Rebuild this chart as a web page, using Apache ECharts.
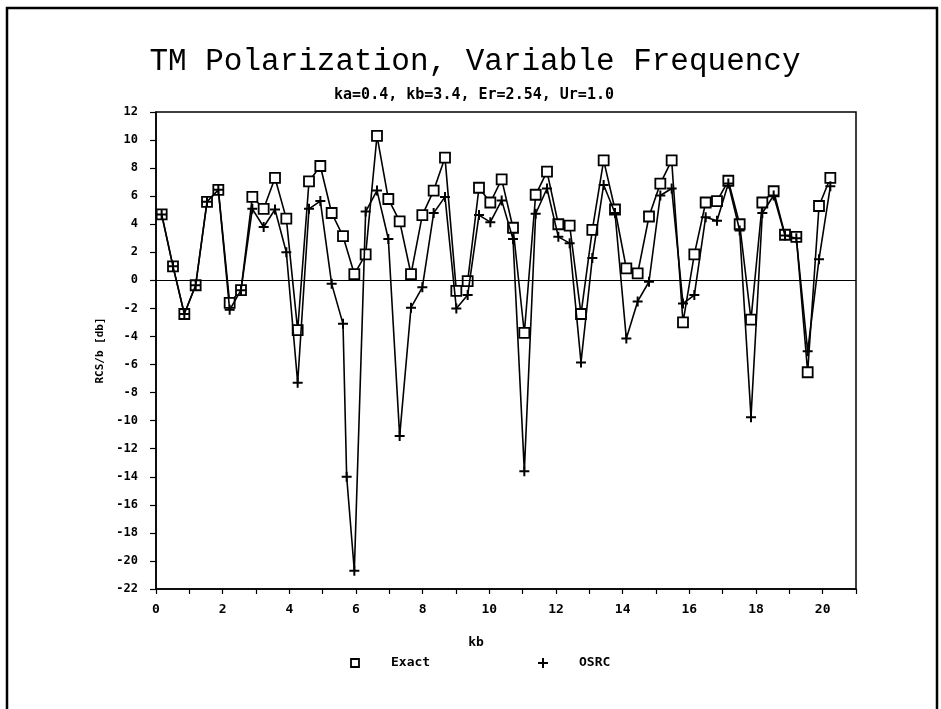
<!DOCTYPE html>
<html><head><meta charset="utf-8">
<script src="https://cdn.jsdelivr.net/npm/echarts@6/dist/echarts.min.js"></script>
<style>html,body{margin:0;padding:0;background:#fff}#c{width:941px;height:709px}</style>
</head><body><div id="c"></div>
<script>
const kb = [0.17, 0.51, 0.85, 1.19, 1.53, 1.87, 2.21, 2.55, 2.89, 3.23,
  3.57, 3.91, 4.25, 4.59, 4.93, 5.27, 5.61, 5.95, 6.29, 6.63,
  6.97, 7.31, 7.65, 7.99, 8.33, 8.67, 9.01, 9.35, 9.69, 10.03,
  10.37, 10.71, 11.05, 11.39, 11.73, 12.07, 12.41, 12.75, 13.09, 13.43,
  13.77, 14.11, 14.45, 14.79, 15.13, 15.47, 15.81, 16.15, 16.49, 16.83,
  17.17, 17.51, 17.85, 18.19, 18.53, 18.87, 19.21, 19.55, 19.89, 20.23];
const exact = [4.7, 1.0, -2.4, -0.35, 5.6, 6.45, -1.6, -0.7, 5.95, 5.1,
  7.3, 4.4, -3.55, 7.05, 8.15, 4.8, 3.15, 0.45, 1.85, 10.3,
  5.8, 4.2, 0.45, 4.65, 6.4, 8.75, -0.75, -0.05, 6.6, 5.55,
  7.2, 3.75, -3.75, 6.1, 7.75, 4.0, 3.9, -2.4, 3.6, 8.55,
  5.05, 0.85, 0.5, 4.55, 6.9, 8.55, -3.0, 1.85, 5.55, 5.65,
  7.1, 4.0, -2.8, 5.55, 6.35, 3.25, 3.1, -6.55, 5.3, 7.3];
// OSRC: one extra sample read near the deep dip at kb ~ 5.72
const osrcKb = [0.17, 0.51, 0.85, 1.19, 1.53, 1.87, 2.21, 2.55, 2.89, 3.23,
  3.57, 3.91, 4.25, 4.59, 4.93, 5.27, 5.61, 5.72, 5.95, 6.29, 6.63,
  6.97, 7.31, 7.65, 7.99, 8.33, 8.67, 9.01, 9.35, 9.69, 10.03,
  10.37, 10.71, 11.05, 11.39, 11.73, 12.07, 12.41, 12.75, 13.09, 13.43,
  13.77, 14.11, 14.45, 14.79, 15.13, 15.47, 15.81, 16.15, 16.49, 16.83,
  17.17, 17.51, 17.85, 18.19, 18.53, 18.87, 19.21, 19.55, 19.89, 20.23];
const osrc = [4.7, 1.0, -2.4, -0.35, 5.6, 6.45, -2.1, -0.7, 5.1, 3.8,
  5.05, 2.0, -7.3, 5.1, 5.65, -0.25, -3.1, -14.0, -20.7, 4.9, 6.4,
  2.95, -11.1, -1.95, -0.5, 4.8, 5.95, -2.0, -1.05, 4.65, 4.15,
  5.7, 2.95, -13.6, 4.75, 6.55, 3.1, 2.65, -5.85, 1.6, 6.8,
  4.8, -4.15, -1.5, -0.1, 6.05, 6.55, -1.65, -1.05, 4.5, 4.25,
  6.9, 3.55, -9.75, 4.8, 6.05, 3.2, 3.0, -5.05, 1.5, 6.7];
const xTickLabels = [0, 2, 4, 6, 8, 10, 12, 14, 16, 18, 20];
const yTickLabels = [12, 10, 8, 6, 4, 2, 0, -2, -4, -6, -8, -10, -12, -14, -16, -18, -20, -22];
const titleText = 'TM Polarization, Variable Frequency';
const subtitleText = 'ka=0.4, kb=3.4, Er=2.54, Ur=1.0';
const xName = 'kb';
const yName = 'RCS/b [db]';
const seriesNames = ['Exact', 'OSRC'];

const MONO = '"DejaVu Sans Mono", "Liberation Mono", monospace';
const plusPath = 'path://M4,0h2v4h4v2h-4v4h-2v-4h-4v-2h4z';

const chart = echarts.init(document.getElementById('c'), null, {renderer: 'canvas'});
const option = {
  backgroundColor: '#fff',
  animation: false,
  grid: {left: 156, top: 112, right: 85, bottom: 120, show: true, borderColor: '#000', borderWidth: 1.5, backgroundColor: 'transparent'},
  xAxis: {
    type: 'value', min: 0, max: 21, interval: 1,
    axisLine: {onZero: false, lineStyle: {color: '#000', width: 1.5}},
    axisTick: {show: true, inside: false, length: 5, lineStyle: {color: '#000', width: 1.2}},
    splitLine: {show: false},
    axisLabel: {
      color: '#000', fontFamily: MONO, fontWeight: 'bold', fontSize: 13, margin: 14,
      formatter: v => xTickLabels.indexOf(v) >= 0 ? String(v) : ''
    }
  },
  yAxis: {
    type: 'value', min: -22, max: 12, interval: 2,
    axisLine: {show: true, onZero: false, lineStyle: {color: '#000', width: 1.5}},
    axisTick: {show: true, inside: false, length: 6, lineStyle: {color: '#000', width: 1.2}},
    splitLine: {show: false},
    axisLabel: {
      color: '#000', fontFamily: MONO, fontWeight: 'bold', fontSize: 12, margin: 18,
      formatter: v => yTickLabels.indexOf(v) >= 0 ? String(v) : ''
    },
    name: yName, nameLocation: 'middle', nameRotate: 90, nameGap: 46,
    nameTextStyle: {color: '#000', fontFamily: MONO, fontWeight: 'bold', fontSize: 11}
  },
  series: [
    {
      name: seriesNames[0], type: 'line', z: 3,
      data: kb.map((x, i) => [x, exact[i]]),
      symbol: 'rect', symbolSize: 10,
      itemStyle: {color: '#fff', borderColor: '#000', borderWidth: 1.8},
      lineStyle: {color: '#000', width: 1.6},
      markLine: {
        silent: true, symbol: 'none', label: {show: false},
        lineStyle: {color: '#000', width: 1, type: 'solid'},
        data: [{yAxis: 0}]
      }
    },
    {
      name: seriesNames[1], type: 'line', z: 4,
      data: osrcKb.map((x, i) => [x, osrc[i]]),
      symbol: plusPath, symbolSize: 10,
      itemStyle: {color: '#000'},
      lineStyle: {color: '#000', width: 1.6}
    }
  ],
  graphic: [
    {type: 'rect', shape: {x: 7, y: 8, width: 930, height: 720}, style: {fill: 'none', stroke: '#000', lineWidth: 2.5}, silent: true},
    {type: 'text', x: 475, y: 62, style: {text: titleText, font: 'normal 31px "Liberation Mono", monospace', fill: '#000', align: 'center', verticalAlign: 'middle'}},
    {type: 'text', x: 474, y: 95, style: {text: subtitleText, font: 'bold 15px ' + MONO, fill: '#000', align: 'center', verticalAlign: 'middle'}},
    {type: 'text', x: 476, y: 643, style: {text: xName, font: 'bold 13px ' + MONO, fill: '#000', align: 'center', verticalAlign: 'middle'}},
    {type: 'rect', shape: {x: 351, y: 659, width: 8, height: 8}, style: {fill: '#fff', stroke: '#000', lineWidth: 1.8}},
    {type: 'text', x: 391, y: 663, style: {text: seriesNames[0], font: 'bold 13px ' + MONO, fill: '#000', align: 'left', verticalAlign: 'middle'}},
    {type: 'polygon', shape: {points: [[542,658],[544,658],[544,662],[548,662],[548,664],[544,664],[544,668],[542,668],[542,664],[538,664],[538,662],[542,662]]}, style: {fill: '#000'}},
    {type: 'text', x: 579, y: 663, style: {text: seriesNames[1], font: 'bold 13px ' + MONO, fill: '#000', align: 'left', verticalAlign: 'middle'}}
  ]
};
chart.setOption(option);
</script>
</body></html>
